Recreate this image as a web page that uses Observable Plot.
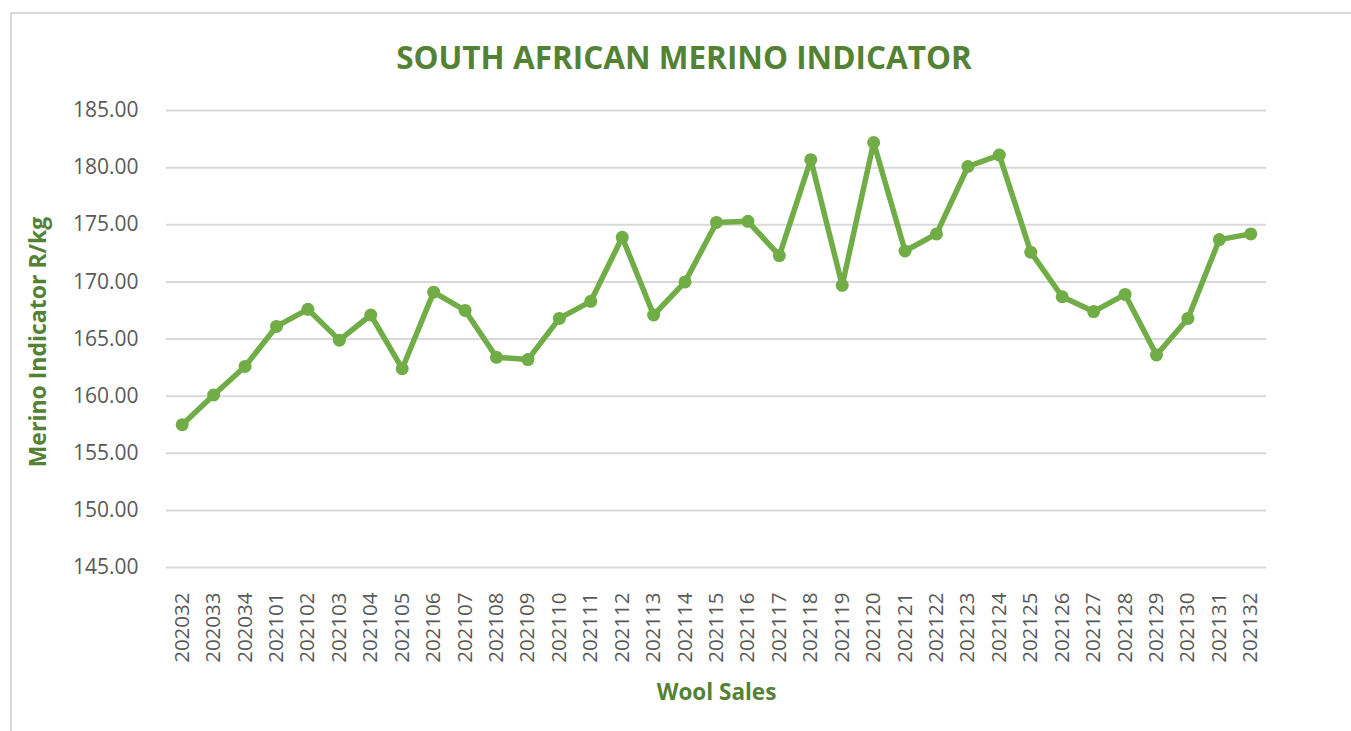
<!DOCTYPE html>
<html>
<head>
<meta charset="utf-8">
<script src="https://cdn.jsdelivr.net/npm/d3@7"></script>
<script src="https://cdn.jsdelivr.net/npm/@observablehq/plot@0.6"></script>
<style>
  html, body { margin: 0; padding: 0; background: #fff; overflow: hidden; }
  #wrap { position: relative; width: 1351px; height: 731px; }
  #border { position: absolute; left: 10px; top: 12px; width: 1360px; height: 740px;
            border: 2px solid #d9d9d9; box-sizing: border-box; }
  #chart { position: absolute; left: 0; top: 0; }
</style>
</head>
<body>
<div id="wrap"><div id="border"></div><div id="chart"></div></div>
<script>
const title = "SOUTH AFRICAN MERINO INDICATOR";
const yLabel = "Merino Indicator R/kg";
const xLabel = "Wool Sales";
const sales = ["202032","202033","202034","202101","202102","202103","202104","202105","202106","202107",
  "202108","202109","202110","202111","202112","202113","202114","202115","202116","202117",
  "202118","202119","202120","202121","202122","202123","202124","202125","202126","202127",
  "202128","202129","202130","202131","202132"];
const indicator = [157.5, 160.1, 162.6, 166.1, 167.6, 164.9, 167.1, 162.4, 169.1, 167.5,
  163.4, 163.2, 166.8, 168.3, 173.9, 167.1, 170.0, 175.2, 175.3, 172.3,
  180.7, 169.7, 182.2, 172.7, 174.2, 180.1, 181.1, 172.6, 168.7, 167.4,
  168.9, 163.6, 166.8, 173.7, 174.2];
const yTicks = [145, 150, 155, 160, 165, 170, 175, 180, 185];

const data = sales.map((s, i) => ({sale: s, value: indicator[i]}));
const green = "#70AD47";
const darkGreen = "#548235";
const grey = "#595959";
const font = "'Open Sans', sans-serif";

const chart = Plot.plot({
  width: 1351,
  height: 731,
  marginLeft: 166,
  marginRight: 85,
  marginTop: 110,
  marginBottom: 164,
  style: {fontFamily: font, background: "transparent", overflow: "visible"},
  x: {type: "point", domain: sales, padding: 0.5, round: false, label: null},
  y: {domain: [145, 185], ticks: yTicks, label: null},
  marks: [
    Plot.gridY(yTicks, {stroke: "#d9d9d9", strokeOpacity: 1, strokeWidth: 2}),
    Plot.axisY(yTicks, {tickSize: 0, tickPadding: 28, tickFormat: d => d.toFixed(2),
      fontSize: 21, fill: grey, label: null}),
    Plot.axisX(sales, {tickSize: 0, tickPadding: 25, tickRotate: -90,
      fontSize: 20.5, fill: grey, label: null}),
    Plot.line(data, {x: "sale", y: "value", stroke: green, strokeWidth: 5.5,
      strokeLinejoin: "round", strokeLinecap: "round"}),
    Plot.dot(data, {x: "sale", y: "value", r: 6.5, fill: green, stroke: "none"}),
    Plot.text([title], {text: d => d, frameAnchor: "top-left", dx: 517.5, dy: -52,
      lineAnchor: "middle", textAnchor: "middle", fontSize: 31.5, fontWeight: "bold", fill: darkGreen}),
    Plot.text([yLabel], {text: d => d, frameAnchor: "left", dx: -128, dy: 3, rotate: -90,
      lineAnchor: "middle", textAnchor: "middle", fontSize: 23, fontWeight: "bold", fill: darkGreen}),
    Plot.text([xLabel], {text: d => d, frameAnchor: "bottom", dy: 125,
      lineAnchor: "middle", textAnchor: "middle", fontSize: 22.5, fontWeight: "bold", fill: darkGreen})
  ]
});
document.getElementById("chart").appendChild(chart);
</script>
</body>
</html>
